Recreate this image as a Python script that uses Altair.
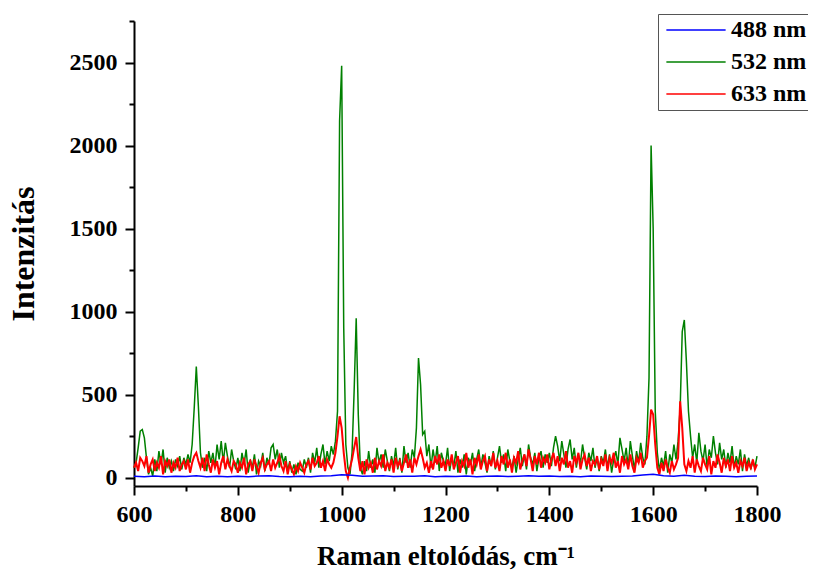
import altair as alt
import pandas as pd

# Raman shift grid (cm-1) for 532 nm and 633 nm spectra
shift = list(range(600, 1801, 4))

i532 = (
    [60, 90, 180, 280, 290, 240, 120, 20, 60, 10, 110, 40, 160, 80, 170, 30, 120, 60, 100, 40, 110, 70, 130, 50, 120]
    + [80, 140, 90, 200, 420, 670, 430, 150, 60, 120, 40, 160, 90, 150, 60, 200, 110, 220, 90, 210, 130, 60, 170, 100, 50]
    + [120, 40, 150, 80, 170, 30, 110, 60, 140, 20, 100, 70, 150, 40, 120, 80, 180, 200, 110, 170, 60, 150, 90, 130, 40]
    + [100, 30, 80, 20, 90, 50, 40, 110, 60, 120, 30, 150, 90, 180, 60, 140, 200, 80, 160, 100, 190, 140, 220, 400, 2150]
    + [2480, 900, 200, 60, 20, 150, 520, 960, 380, 60, 20, 100, 40, 160, 60, 110, 30, 180, 90, 140, 60, 170, 100, 40, 130]
    + [70, 180, 50, 120, 30, 190, 90, 150, 60, 170, 120, 300, 720, 560, 260, 280, 130, 200, 60, 170, 90, 190, 40, 150, 100]
    + [80, 180, 40, 120, 70, 160, 30, 110, 60, 140, 20, 120, 80, 150, 40, 110, 170, 60, 140, 90, 30, 130, 70, 160, 50]
    + [120, 190, 90, 140, 40, 170, 100, 60, 130, 30, 110, 180, 70, 140, 50, 200, 120, 80, 150, 40, 120, 160, 60, 140, 90]
    + [150, 70, 180, 250, 190, 100, 220, 140, 60, 170, 230, 110, 180, 60, 140, 90, 200, 120, 50, 150, 100, 180, 60, 120, 40]
    + [130, 90, 170, 60, 140, 30, 110, 160, 80, 240, 170, 100, 180, 60, 220, 130, 50, 160, 90, 210, 120, 80, 250, 600, 2000]
    + [1500, 400, 150, 40, 120, 70, 160, 30, 140, 90, 200, 110, 220, 420, 880, 950, 700, 400, 250, 120, 200, 90, 270, 160, 100]
    + [200, 60, 170, 120, 250, 150, 80, 210, 110, 170, 60, 150, 90, 190, 60, 130, 80, 170, 40, 140, 70, 120, 50, 100, 60]
    + [130]
)

i633 = (
    [60, 90, 40, 120, 100, 70, 130, 30, 80, 110, 40, 90, 60, 130, 20, 100, 70, 110, 30, 90, 60, 120, 40, 80, 100]
    + [50, 110, 30, 90, 130, 150, 100, 60, 120, 40, 140, 80, 30, 110, 60, 100, 20, 90, 130, 50, 110, 70, 40, 100, 80]
    + [30, 90, 60, 120, 20, 80, 100, 40, 110, 70, 30, 90, 120, 50, 80, 100, 40, 110, 60, 90, 130, 70, 40, 100, 20]
    + [80, 50, 20, 70, 40, 90, 60, 30, 80, 100, 50, 120, 70, 90, 130, 60, 100, 40, 110, 80, 60, 90, 150, 250, 370]
    + [300, 150, 40, 0, 60, 110, 180, 245, 120, 40, 100, 20, 110, 60, 90, 30, 120, 50, 100, 70, 140, 40, 90, 60, 110]
    + [30, 120, 70, 100, 40, 90, 140, 60, 110, 30, 120, 80, 130, 170, 120, 60, 90, 30, 100, 50, 130, 80, 140, 60, 100]
    + [40, 110, 70, 140, 50, 90, 130, 30, 100, 70, 150, 60, 110, 20, 120, 80, 140, 50, 100, 130, 40, 110, 70, 150, 60]
    + [100, 40, 130, 80, 150, 60, 110, 30, 120, 90, 160, 50, 100, 140, 70, 170, 110, 40, 130, 80, 150, 60, 120, 90, 140]
    + [50, 110, 150, 70, 130, 40, 120, 80, 160, 60, 100, 30, 130, 90, 150, 50, 110, 140, 70, 120, 40, 100, 80, 130, 50]
    + [110, 70, 140, 40, 120, 90, 150, 60, 100, 30, 130, 80, 110, 50, 140, 70, 30, 120, 90, 150, 60, 100, 120, 250, 410]
    + [380, 200, 60, 20, 90, 40, 110, 60, 30, 100, 50, 80, 120, 460, 300, 80, 40, 100, 60, 130, 30, 110, 70, 40, 120]
    + [80, 50, 130, 20, 100, 60, 140, 90, 30, 120, 70, 110, 40, 130, 60, 90, 30, 100, 70, 120, 40, 90, 60, 110, 50]
    + [80]
)

# 488 nm spectrum (nearly flat)
shift_488 = list(range(600, 1801, 20))
i488 = [8, 5, 10, 6, 9, 7, 12, 6, 9, 5, 8, 6, 10, 12, 7, 5, 8, 6, 10, 12, 18, 14, 8, 10, 12, 7, 9, 8, 12, 6,
        9, 7, 10, 6, 8, 10, 7, 9, 12, 8, 10, 7, 9, 6, 10, 8, 7, 9, 10, 16, 20, 12, 8, 14, 9, 7, 10, 8, 6, 9, 10]

series = ["488 nm", "532 nm", "633 nm"]
colors = ["#0000ff", "#008000", "#ff0000"]

x_major = [600, 800, 1000, 1200, 1400, 1600, 1800]
x_minor = [700, 900, 1100, 1300, 1500, 1700]
y_major = [0, 500, 1000, 1500, 2000, 2500]
y_minor = [250, 750, 1250, 1750, 2250, 2750]

n = min(len(shift), len(i532), len(i633))
df = pd.concat([
    pd.DataFrame({"shift": shift_488[:len(i488)], "intensity": i488[:len(shift_488)], "series": series[0]}),
    pd.DataFrame({"shift": shift[:n], "intensity": i532[:n], "series": series[1]}),
    pd.DataFrame({"shift": shift[:n], "intensity": i633[:n], "series": series[2]}),
], ignore_index=True)

FONT = "Liberation Serif"
xscale = alt.Scale(domain=[600, 1800], nice=False, zero=False)
yscale = alt.Scale(domain=[-50, 2750], nice=False, zero=False)

color = alt.Color(
    "series:N",
    scale=alt.Scale(domain=series, range=colors),
    legend=alt.Legend(
        title=None, orient="none", legendX=524, legendY=-7,
        symbolType="M-3,0H3", symbolSize=390, symbolStrokeWidth=1.7, symbolOffset=22,
        labelFont=FONT, labelFontSize=24, labelFontWeight="bold", labelColor="black",
        strokeColor="#555555", fillColor="white", padding=4, rowPadding=8, labelOffset=23,
    ),
)

common = dict(domainColor="black", tickColor="black", domainWidth=2, tickWidth=2, grid=False)

xa_major = alt.Axis(values=x_major, orient="bottom", format="d", tickSize=9, labelFont=FONT, labelFontSize=24,
                    labelFontWeight="bold", labelColor="black", labelPadding=7, labelFlush=False,
                    title="Raman eltolódás, cm⁻¹", titleFont=FONT, titleFontSize=27, titleFontWeight="bold",
                    titleColor="black", titlePadding=17, **common)
ya_major = alt.Axis(values=y_major, orient="left", format="d", tickSize=9, labelFont=FONT, labelFontSize=24,
                    labelFontWeight="bold", labelColor="black", labelPadding=8,
                    title="Intenzitás", titleFont=FONT, titleFontSize=32, titleFontWeight="bold",
                    titleColor="black", titlePadding=29, **common)
xa_minor = alt.Axis(values=x_minor, orient="bottom", tickSize=5, labels=False, domain=False, title=None,
                    tickColor="black", tickWidth=2, grid=False)
ya_minor = alt.Axis(values=y_minor, orient="left", tickSize=5, labels=False, domain=False, title=None,
                    tickColor="black", tickWidth=2, grid=False)


def layer(name, sw, xaxis, yaxis):
    return alt.Chart(df).transform_filter(alt.datum.series == name).mark_line(strokeWidth=sw).encode(
        x=alt.X("shift:Q", scale=xscale, axis=xaxis),
        y=alt.Y("intensity:Q", scale=yscale, axis=yaxis),
        color=color,
    )


green = layer("532 nm", 1.5, xa_major, ya_major)
red = layer("633 nm", 2, None, None)
blue = layer("488 nm", 1.5, xa_minor, ya_minor)

chart = alt.layer(green, red, blue).resolve_axis(x="independent", y="independent").properties(
    width=623, height=465,
    autosize=alt.AutoSizeParams(type="none"),
    padding={"left": 126, "top": 13, "right": 51, "bottom": 86},
    background="white",
).configure_view(stroke=None)

chart.save("out.html", embed_options={"renderer": "svg", "actions": False})
